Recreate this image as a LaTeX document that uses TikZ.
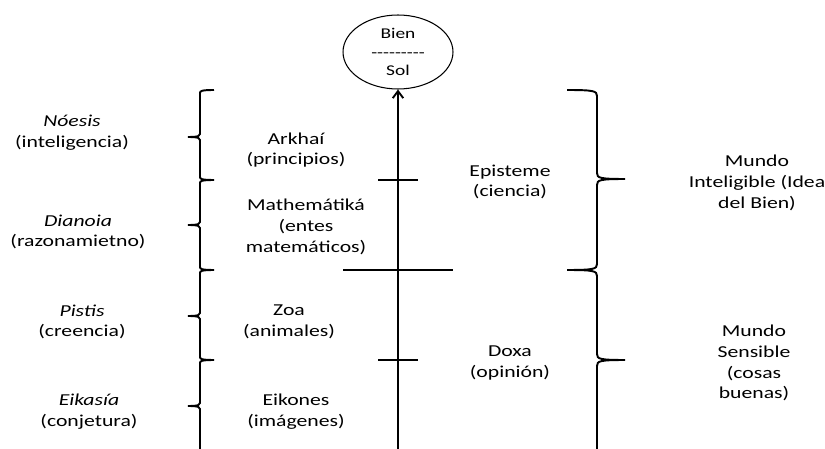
\documentclass[tikz,border=0pt]{standalone}
\usepackage{fontspec}
\setmainfont{Carlito}[FakeStretch=1.3]
\usetikzlibrary{shapes.geometric,arrows.meta}

\def\lw{1.1pt}
% #1 x, #2 top, #3 tip, #4 bottom, #5 hook, #6 tip offset, #7 curl
\newcommand{\bracepath}[7]{%
  \draw[line width=\lw] ({#1+#5},#2) .. controls ({#1+0.1*#5},#2) and (#1,{#2+1}) .. (#1,{#2+#7})
    -- (#1,{#3-#7}) .. controls (#1,{#3-1}) and ({#1-0.1*#6},#3) .. ({#1-#6},#3)
    .. controls ({#1-0.1*#6},#3) and (#1,{#3+1}) .. (#1,{#3+#7})
    -- (#1,{#4-#7}) .. controls (#1,{#4-1}) and ({#1+0.1*#5},#4) .. ({#1+#5},#4);}

\begin{document}
\begin{tikzpicture}[x=0.02cm, y=-0.02cm,
    every node/.style={align=center, inner sep=0, font=\fontsize{9.5}{11.8}\selectfont},
    sun/.style={ellipse, draw, line width=0.6pt, minimum width=2.2cm, minimum height=1.48cm, font=\fontsize{8.5}{10.5}\selectfont},
    axis/.style={line width=\lw}]
		\clip (0,0) rectangle (825,449);
		
		\node (bien) at (398,52) [sun] {Bien\\-\kern0pt-\kern0pt-\kern0pt-\kern0pt-\kern0pt-\kern0pt-\kern0pt-\kern0pt-\\Sol};
		
		\node (noesis) at (72,133) {\textit{Nóesis}\\(inteligencia)};
		\node (dianoia) at (78,232) {\textit{Dianoia}\\(razonamietno)};
		\node (pistis) at (82,322) {\textit{Pistis}\\(creencia)};
		\node (eikasia) at (89,412) {\textit{Eikasía}\\(conjetura)};
		
		\node (arkhai) at (296,150) {Arkhaí\\(principios)};
		\node (mathematika) at (306,227) {Mathemátiká\\(entes\\matemáticos)};
		\node (zoa) at (289,322) {Zoa\\(animales)};
		\node (eikones) at (296,412) {Eikones\\(imágenes)};
		
		\node (episteme) at (510,182) {Episteme\\(ciencia)};
		\node (doxa) at (510,363) {Doxa\\(opinión)};
		
		\node (inteligible) at (757,183) {Mundo\\Inteligible (Idea\\del Bien)};
		\node (sensible) at (754,363) {Mundo\\Sensible\\(cosas\\buenas)};
		
		\coordinate (base) at (398,470);
		\coordinate (t1l) at (378,180);
		\coordinate (t1r) at (418,180);
		\coordinate (t2l) at (343,270);
		\coordinate (t2r) at (453,270);
		\coordinate (t3l) at (378,360);
		\coordinate (t3r) at (418,360);
		
		\draw[axis, -{Straight Barb[length=4pt,width=6pt]}] (base) to (bien.south);
		\draw[axis] (t1l) to (t1r);
		\draw[axis] (t2l) to (t2r);
		\draw[axis] (t3l) to (t3r);
		
		\bracepath{200}{90}{137}{180}{14}{12}{3}
		\bracepath{200}{180}{225}{270}{14}{12}{3}
		\bracepath{200}{270}{316}{360}{14}{12}{3}
		\bracepath{200}{360}{406}{460}{14}{12}{3}
		
		\bracepath{597}{90}{179}{270}{-30}{-28}{6}
		\bracepath{597}{270}{360}{470}{-30}{-28}{6}
	\end{tikzpicture}
\end{document}
